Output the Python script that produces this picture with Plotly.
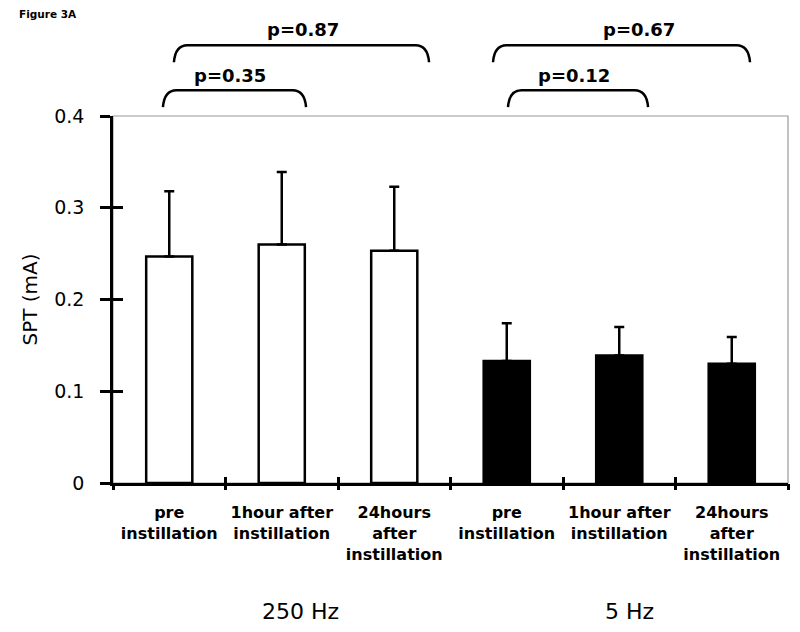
import plotly.graph_objects as go

# ---- data ----
categories = ["pre<br>instillation", "1hour after<br>instillation", "24hours<br>after<br>instillation",
              "pre<br>instillation", "1hour after<br>instillation", "24hours<br>after<br>instillation"]
x_250 = [0, 1, 2]
x_5 = [3, 4, 5]
spt_250 = [0.247, 0.260, 0.253]
sd_250 = [0.071, 0.079, 0.070]
spt_5 = [0.133, 0.139, 0.130]
sd_5 = [0.041, 0.031, 0.029]
y_ticks = [0, 0.1, 0.2, 0.3, 0.4]
y_ticktext = ["0", "0.1", "0.2", "0.3", "0.4"]
group_labels = ["250 Hz", "5 Hz"]
group_label_x = [1.17, 4.09]
# comparisons: (text, x start, x end, text x, level)
comparisons = [
    ("p=0.35", -0.056, 1.216, 0.54, 0),
    ("p=0.87", 0.042, 2.309, 1.19, 1),
    ("p=0.12", 3.011, 4.256, 3.60, 0),
    ("p=0.67", 2.878, 5.162, 4.18, 1),
]

XR = [-0.5, 5.5]
YR = [0, 0.4]
FONT = "DejaVu Sans, Arial, sans-serif"
PLOT_H = 367.0

def xp(x):
    return (x - XR[0]) / (XR[1] - XR[0])

def yp(y):
    return (y - YR[0]) / (YR[1] - YR[0])

fig = go.Figure()
fig.add_trace(go.Bar(
    x=x_250, y=spt_250, width=0.41, name="250 Hz",
    marker=dict(color="white", line=dict(color="black", width=2.5)),
    error_y=dict(type="data", array=sd_250, arrayminus=[0, 0, 0], symmetric=False,
                 color="black", thickness=2.5, width=5),
    showlegend=False))
fig.add_trace(go.Bar(
    x=x_5, y=spt_5, width=0.41, name="5 Hz",
    marker=dict(color="black", line=dict(color="black", width=2.5)),
    error_y=dict(type="data", array=sd_5, arrayminus=[0, 0, 0], symmetric=False,
                 color="black", thickness=2.5, width=5),
    showlegend=False))
# invisible traces to activate tick-only overlay axes
for xa, ya in [("x2", "y"), ("x3", "y"), ("x", "y2")]:
    fig.add_trace(go.Scatter(x=[None], y=[None], xaxis=xa, yaxis=ya, showlegend=False,
                             hoverinfo="skip", mode="markers"))

boundaries = [i - 0.5 for i in range(7)]

fig.update_layout(
    width=792, height=624,
    margin=dict(l=105, r=12, t=108, b=149),
    paper_bgcolor="white", plot_bgcolor="white",
    barmode="overlay",
    font=dict(family=FONT, color="black"),
    xaxis=dict(range=XR, tickvals=list(range(6)), ticktext=categories, ticks="",
               showline=True, linecolor="black", linewidth=2.5, showgrid=False, zeroline=False,
               tickfont=dict(size=16, family="DejaVu Sans", weight="bold"),
               ticklabelstandoff=13, fixedrange=True),
    xaxis2=dict(range=XR, overlaying="x", anchor="y", side="bottom", tickvals=boundaries,
                ticks="outside", ticklen=6, tickwidth=2.5, tickcolor="black",
                showticklabels=False, showline=False, showgrid=False, zeroline=False),
    xaxis3=dict(range=XR, overlaying="x", anchor="y", side="bottom", tickvals=boundaries,
                ticks="inside", ticklen=6, tickwidth=2.5, tickcolor="black",
                showticklabels=False, showline=False, showgrid=False, zeroline=False),
    yaxis=dict(range=YR, tickvals=y_ticks, ticktext=y_ticktext, ticks="outside", ticklen=10,
               tickwidth=2.5, tickcolor="black", showline=True, linecolor="black", linewidth=2.5,
               showgrid=False, zeroline=False, tickfont=dict(size=19), ticklabelstandoff=12,
               title=dict(text="SPT (mA)", font=dict(size=20), standoff=12), fixedrange=True),
    yaxis2=dict(range=YR, overlaying="y", anchor="x", side="left", tickvals=y_ticks,
                ticks="inside", ticklen=10, tickwidth=2.5, tickcolor="black",
                showticklabels=False, showline=False, showgrid=False, zeroline=False),
)

# thin grey frame (top & right)
fig.add_shape(type="rect", xref="paper", yref="paper", x0=0, x1=1, y0=0, y1=1,
              line=dict(color="#9a9a9a", width=1.2), layer="below")

# comparison brackets
levels = {0: (0.4096, 0.428, 0.4444), 1: (0.4586, 0.477, 0.4946)}
for text, xa, xb, xt, lv in comparisons:
    yend, ytop, ytext = levels[lv]
    x0, x1 = xp(xa), xp(xb)
    y0, y1 = yp(yend), yp(ytop)
    dx = 0.02
    path = (f"M {x0:.4f},{y0:.4f} Q {x0 + 0.002:.4f},{y1:.4f} {x0 + dx:.4f},{y1:.4f} "
            f"L {x1 - dx:.4f},{y1:.4f} Q {x1 - 0.002:.4f},{y1:.4f} {x1:.4f},{y0:.4f}")
    fig.add_shape(type="path", xref="paper", yref="paper", path=path,
                  line=dict(color="black", width=2.5))
    fig.add_annotation(x=xp(xt), y=yp(ytext), xref="paper", yref="paper", text=text,
                       showarrow=False, xanchor="center", yanchor="middle",
                       font=dict(size=18, family="DejaVu Sans", weight="bold"))

for lab, gx in zip(group_labels, group_label_x):
    fig.add_annotation(x=xp(gx), y=-128 / PLOT_H, xref="paper", yref="paper", text=lab,
                       showarrow=False, xanchor="center", yanchor="middle",
                       font=dict(size=22))

fig.add_annotation(x=-96 / 675, y=469 / PLOT_H, xref="paper", yref="paper",
                   text="Figure 3A", showarrow=False, xanchor="left", yanchor="middle",
                   font=dict(size=10.5, family="DejaVu Sans", weight="bold"))

fig.write_html("out.html")
